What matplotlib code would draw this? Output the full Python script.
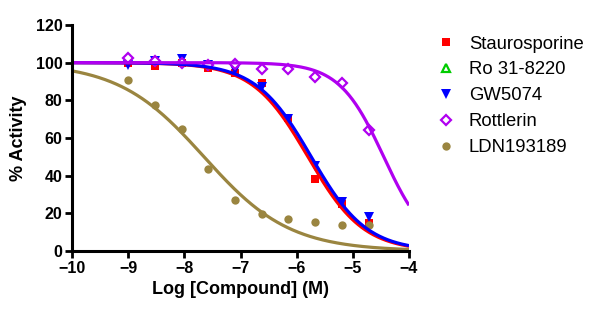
import numpy as np
import matplotlib
matplotlib.use("Agg")
import matplotlib.pyplot as plt

plt.rcParams['font.family'] = ['Liberation Sans', 'DejaVu Sans']

log_conc = [-9.0, -8.52, -8.05, -7.57, -7.1, -6.62, -6.15, -5.67, -5.2, -4.72]

names = ["Staurosporine", "Ro 31-8220", "GW5074", "Rottlerin", "LDN193189"]
staurosporine = [100, 98, 100, 97, 94.5, 89, 70.5, 38, 25, 15]
ro318220 = [np.nan] * 10  # not visible in the chart (hidden beneath other series)
gw5074 = [99, 101, 102, 98.5, 96, 87, 70, 45, 26, 18]
rottlerin = [102.5, 101, 100, 99, 99.3, 96.6, 96.6, 92.4, 89, 64]
ldn193189 = [91, 77.5, 65, 43.5, 27, 19.6, 17, 15.4, 13.8, 13.8]

# 4-parameter logistic fit parameters: (top, bottom, logIC50, hill)
fit_staurosporine = (100, 0, -5.80, 0.88)
fit_ro318220 = None
fit_gw5074 = (100, 0, -5.74, 0.88)
fit_rottlerin = (100, 0, -4.45, 1.1)
fit_ldn193189 = (100, 0, -7.65, 0.57)

colors = ["#ff0000", "#00cc00", "#0000ff", "#b000f0", "#9a8540"]
markers = ["s", "^", "v", "D", "o"]
filled = [True, False, True, False, True]
msizes = [6.0, 6, 6.5, 5.2, 6]

series = [staurosporine, ro318220, gw5074, rottlerin, ldn193189]
fits = [fit_staurosporine, fit_ro318220, fit_gw5074, fit_rottlerin, fit_ldn193189]
line_z = [5, 4, 6, 7, 4.5]
mark_z = [2, 1.5, 2.2, 3, 2.5]

def logistic(x, top, bottom, logic50, hill):
    return bottom + (top - bottom) / (1 + 10 ** ((x - logic50) * hill))

fig = plt.figure(figsize=(6.0, 3.22), dpi=100)
ax = fig.add_axes([0.12, 0.2205, 0.5617, 0.702])

xs = np.linspace(-10, -4, 400)
handles = []
for name, ys, fit, c, m, f, ms, lz, mz in zip(names, series, fits, colors, markers,
                                              filled, msizes, line_z, mark_z):
    if fit is not None:
        ax.plot(xs, logistic(xs, *fit), color=c, lw=2.3, zorder=lz, solid_capstyle='butt')
    h = ax.plot(log_conc, ys, linestyle='none', marker=m, markersize=ms,
                markerfacecolor=c if f else 'white', markeredgecolor=c,
                markeredgewidth=0 if f else 1.6, zorder=mz, clip_on=False, label=name)[0]
    handles.append(h)

ax.set_xlim(-10, -4)
ax.set_ylim(0, 120)
ax.set_xticks(range(-10, -3))
ax.set_yticks(range(0, 121, 20))
for s in ['top', 'right']:
    ax.spines[s].set_visible(False)
for s in ['left', 'bottom']:
    ax.spines[s].set_linewidth(2.2)
    ax.spines[s].set_zorder(8)
ax.tick_params(width=2, length=5, labelsize=11.5, pad=2)
for lab in ax.get_xticklabels() + ax.get_yticklabels():
    lab.set_fontweight('bold')
ax.set_xlabel("Log [Compound] (M)", fontsize=13, fontweight='bold', labelpad=4)
ax.set_ylabel("% Activity", fontsize=13, fontweight='bold', labelpad=6)

leg = fig.legend(handles=handles, loc='upper left', bbox_to_anchor=(0.70, 0.941),
                 frameon=False, fontsize=13.3, handlelength=1.0, handletextpad=0.75,
                 labelspacing=0.48, markerscale=1.0)

fig.savefig("out.png", dpi=100)
